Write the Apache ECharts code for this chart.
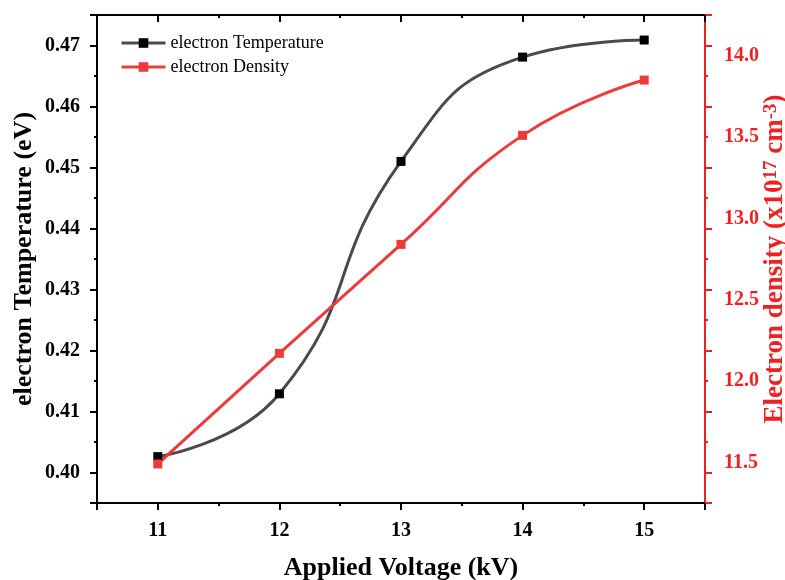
<!DOCTYPE html>
<html>
<head>
<meta charset="utf-8">
<script src="https://cdn.jsdelivr.net/npm/echarts@6/dist/echarts.min.js"></script>
<style>html,body{margin:0;padding:0;background:#fff}#c{width:785px;height:580px}</style>
</head>
<body>
<div id="c"></div>
<script>
const voltage = [11, 12, 13, 14, 15];
const temperature = [0.4026, 0.4129, 0.4510, 0.4681, 0.4709];
const density = [11.49, 12.17, 12.84, 13.51, 13.85];
const seriesNames = ['electron Temperature', 'electron Density'];
const xTitle = 'Applied Voltage (kV)';
const yLeftTitle = 'electron Temperature (eV)';

const FONT = '"Liberation Serif", "Times New Roman", serif';
const RED = '#f02020';
const isMult = (v, step) => Math.abs(v / step - Math.round(v / step)) < 1e-6;

const chart = echarts.init(document.getElementById('c'), null, {renderer: 'canvas'});
const blank = {show: false};
const baseX = {type: 'value', min: 10.5, max: 15.5, splitLine: blank, axisLabel: blank, axisLine: blank};
const baseYL = {type: 'value', min: 0.395, max: 0.475, splitLine: blank, axisLabel: blank, axisLine: blank};

chart.setOption({
  animation: false,
  backgroundColor: '#fff',
  grid: {left: 97, right: 80, top: 15, bottom: 77, containLabel: false, outerBoundsMode: 'none'},
  legend: {
    data: seriesNames, orient: 'vertical', left: 115, top: 29,
    itemWidth: 44, itemHeight: 12, itemGap: 6,
    lineStyle: {width: 3},
    textStyle: {fontFamily: FONT, fontSize: 18, color: '#000'}
  },
  xAxis: [
    {type: 'value', min: 10.5, max: 15.5, interval: 0.5, position: 'bottom',
     splitLine: blank,
     axisLine: {show: true, lineStyle: {color: '#000', width: 2}},
     axisTick: {show: true, length: 3, lineStyle: {color: '#000', width: 2}},
     axisLabel: {show: true, margin: 18, fontFamily: FONT, fontWeight: 'bold', fontSize: 20, color: '#000',
       formatter: v => isMult(v, 1) ? String(Math.round(v)) : ''},
     name: xTitle, nameLocation: 'middle', nameGap: 52,
     nameTextStyle: {fontFamily: FONT, fontWeight: 'bold', fontSize: 26, color: '#000'}},
    Object.assign({}, baseX, {position: 'bottom', splitNumber: 5,
     axisTick: {show: true, length: 7, lineStyle: {color: '#000', width: 2}}}),
    {type: 'value', min: 10.5, max: 15.5, interval: 0.5, position: 'top', splitLine: blank, axisLabel: blank,
     axisLine: {show: true, lineStyle: {color: '#000', width: 2}},
     axisTick: {show: true, inside: true, length: 3, lineStyle: {color: '#000', width: 2}}},
    Object.assign({}, baseX, {position: 'top', splitNumber: 5,
     axisTick: {show: true, inside: true, length: 7, lineStyle: {color: '#000', width: 2}}})
  ],
  yAxis: [
    {type: 'value', min: 0.395, max: 0.475, interval: 0.005, position: 'left', splitLine: blank,
     axisLine: {show: true, lineStyle: {color: '#000', width: 2}},
     axisTick: {show: true, length: 3, lineStyle: {color: '#000', width: 2}},
     axisLabel: {show: true, margin: 17, fontFamily: FONT, fontWeight: 'bold', fontSize: 20, color: '#000',
       formatter: v => isMult(v, 0.01) ? v.toFixed(2) : ''},
     name: yLeftTitle, nameLocation: 'middle', nameGap: 60, nameRotate: 90, nameMoveOverlap: false,
     nameTextStyle: {fontFamily: FONT, fontWeight: 'bold', fontSize: 26, color: '#000', lineHeight: 26}},
    Object.assign({}, baseYL, {position: 'left', splitNumber: 8,
     axisTick: {show: true, length: 7, lineStyle: {color: '#000', width: 2}}}),
    {type: 'value', min: 11.25, max: 14.25, interval: 0.25, position: 'right', splitLine: blank,
     axisLine: {show: true, lineStyle: {color: RED, width: 2}},
     axisTick: blank,
     axisLabel: {show: true, margin: 19, fontFamily: FONT, fontWeight: 'bold', fontSize: 20, color: RED,
       formatter: v => isMult(v, 0.5) ? v.toFixed(1) : ''},
     name: 'Electron density (x10{sup|17} cm{sup|-3})', nameLocation: 'middle', nameGap: 57, nameRotate: 90,
     nameMoveOverlap: false,
     nameTextStyle: {fontFamily: FONT, fontWeight: 'bold', fontSize: 27, color: RED, lineHeight: 26,
       rich: {sup: {fontFamily: FONT, fontWeight: 'bold', fontSize: 19, color: RED, verticalAlign: 'top', lineHeight: 26}}}},
    Object.assign({}, baseYL, {position: 'right', interval: 0.005,
     axisTick: {show: true, length: 3, lineStyle: {color: RED, width: 2}}}),
    Object.assign({}, baseYL, {position: 'right', splitNumber: 8,
     axisTick: {show: true, length: 7, lineStyle: {color: RED, width: 2}}})
  ],
  series: [
    {name: seriesNames[0], type: 'line', xAxisIndex: 0, yAxisIndex: 0, smooth: 0.5,
     symbol: 'rect', symbolSize: 9,
     data: voltage.map((v, i) => [v, temperature[i]]),
     lineStyle: {color: '#4a4a4a', width: 3}, itemStyle: {color: '#000'}},
    {name: seriesNames[1], type: 'line', xAxisIndex: 0, yAxisIndex: 2, smooth: 0.5,
     symbol: 'rect', symbolSize: 9,
     data: voltage.map((v, i) => [v, density[i]]),
     lineStyle: {color: '#ee3a3a', width: 3}, itemStyle: {color: '#ee3a3a'}}
  ]
});
</script>
</body>
</html>
